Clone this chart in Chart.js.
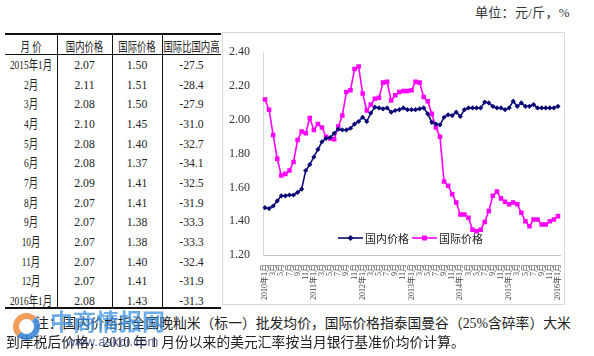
<!DOCTYPE html>
<html><head><meta charset="utf-8">
<script src="https://cdn.jsdelivr.net/npm/chart.js@4.4.0/dist/chart.umd.min.js"></script>
<style>
html,body{margin:0;padding:0;background:#fff;}
body{width:594px;height:356px;position:relative;overflow:hidden;font-family:"Liberation Serif","Noto Sans CJK SC",serif;color:#222;}
#unit{position:absolute;left:475px;top:5px;font-size:13px;line-height:16px;color:#333;white-space:nowrap;letter-spacing:0.3px;}
.rule{position:absolute;background:#111;}
.cell{position:absolute;overflow:hidden;text-align:center;white-space:nowrap;font-size:13px;color:#222;}
.cell span{display:block;margin:0 -30px;}
#frame{position:absolute;left:222px;top:32px;width:341px;height:271px;border:1px solid #dadada;}
#cv{position:absolute;left:222px;top:32px;}
.note{position:absolute;white-space:nowrap;font-size:13.8px;line-height:16px;font-family:"Liberation Serif","Noto Sans CJK SC",serif;color:#222;}
.wm{position:absolute;white-space:nowrap;}
</style>
</head>
<body>
<div id="unit">单位：元/斤，%</div>
<div id="tableBox"></div>
<div id="frame"></div>
<canvas id="cv" width="342" height="272"></canvas>
<div class="note" style="left:35px;top:316px;">注：国内价格指全国晚籼米（标一）批发均价，国际价格指泰国曼谷（25%含碎率）大米</div>
<div class="note" style="left:6px;top:335px;">到岸税后价格，2010 年 1 月份以来的美元汇率按当月银行基准价均价计算。</div>
<div class="wm" style="left:13px;top:313px;width:15px;height:15px;border-radius:50%;border:6px solid rgba(240,140,60,0.85);border-right-color:rgba(50,130,215,0.85);border-bottom-color:rgba(50,130,215,0.85);"></div>
<div class="wm" style="left:50px;top:309px;font-size:23px;line-height:23px;font-weight:bold;font-family:'Noto Sans CJK SC';color:rgba(60,145,225,0.75);letter-spacing:0px;">中商情报网</div>
<div class="wm" style="left:66px;top:334px;font-size:13px;line-height:15px;font-family:'Liberation Sans';color:rgba(30,50,120,0.75);letter-spacing:0.3px;">www.askci.com</div>
<script>
// ---- table data ----
const tableHeaders = ["月 价", "国内价格", "国际价格", "国际比国内高"];
const tableMonths = ["2015年1月","2月","3月","4月","5月","6月","7月","8月","9月","10月","11月","12月","2016年1月"];
const tableDomestic = [2.07,2.11,2.08,2.10,2.08,2.08,2.09,2.07,2.07,2.07,2.07,2.07,2.08];
const tableIntl = [1.50,1.51,1.50,1.45,1.40,1.37,1.41,1.41,1.38,1.38,1.40,1.41,1.43];
const tableDiff = [-27.5,-28.4,-27.9,-31.0,-32.7,-34.1,-32.5,-31.9,-33.3,-33.3,-32.4,-31.9,-31.3];

// ---- chart data ----
const months = [
"2010年1月","2月","3月","4月","5月","6月","7月","8月","9月","10月","11月","12月",
"2011年1月","2月","3月","4月","5月","6月","7月","8月","9月","10月","11月","12月",
"2012年1月","2月","3月","4月","5月","6月","7月","8月","9月","10月","11月","12月",
"2013年1月","2月","3月","4月","5月","6月","7月","8月","9月","10月","11月","12月",
"2014年1月","2月","3月","4月","5月","6月","7月","8月","9月","10月","11月","12月",
"2015年1月","2月","3月","4月","5月","6月","7月","8月","9月","10月","11月","12月",
"2016年1月"];
const domestic = [
1.48,1.475,1.49,1.52,1.55,1.55,1.555,1.555,1.57,1.59,1.70,1.735,
1.78,1.825,1.87,1.89,1.895,1.92,1.945,1.94,1.94,1.95,1.975,1.99,
2.015,1.99,2.04,2.075,2.07,2.065,2.07,2.045,2.055,2.06,2.07,2.06,
2.06,2.06,2.065,2.07,2.035,1.985,1.975,1.97,2.015,2.03,2.025,2.045,
2.02,2.06,2.07,2.07,2.07,2.07,2.105,2.10,2.08,2.07,2.07,2.06,
2.07,2.11,2.08,2.10,2.08,2.08,2.09,2.07,2.07,2.07,2.07,2.07,
2.08];
const international = [
2.12,2.06,1.91,1.77,1.67,1.68,1.70,1.75,1.88,1.93,1.92,2.01,
1.94,1.975,1.955,1.90,1.89,1.885,1.96,2.025,2.165,2.175,2.30,2.315,
2.155,2.055,2.09,2.125,2.13,2.22,2.225,2.115,2.145,2.165,2.17,2.17,
2.175,2.225,2.22,2.135,2.11,2.035,1.955,1.90,1.635,1.61,1.56,1.51,
1.44,1.44,1.42,1.35,1.34,1.35,1.395,1.46,1.55,1.575,1.535,1.515,
1.50,1.51,1.50,1.45,1.40,1.37,1.41,1.41,1.38,1.38,1.40,1.41,
1.43];
const seriesNames = ["国内价格", "国际价格"];
const yMin = 1.2, yMax = 2.4, yStep = 0.2;

// ---- build table ----
(function(){
  const box = document.getElementById('tableBox');
  const colX = [5,57,112,162,221];
  function add(html){ box.insertAdjacentHTML('beforeend', html); }
  function rule(x,y,w,h){ add('<div class="rule" style="left:'+x+'px;top:'+y+'px;width:'+w+'px;height:'+h+'px"></div>'); }
  function cell(ci, top, h, text, sx){
    add('<div class="cell" style="left:'+colX[ci]+'px;width:'+(colX[ci+1]-colX[ci])+'px;top:'+top+'px;height:'+h+'px;line-height:'+h+'px"><span style="transform:scaleX('+sx+')">'+text+'</span></div>');
  }
  rule(5,33,216,2);
  rule(5,54,216,1);
  rule(5,307,216,2);
  for (let k=1;k<4;k++) rule(colX[k],35,1,272);
  tableHeaders.forEach((t,i)=>cell(i,38,18,t,0.72));
  const rh = 19.64;
  for (let r=0;r<tableMonths.length;r++){
    const top = 55.2 + r*rh;
    cell(0, top, rh, tableMonths[r], 0.72);
    cell(1, top, rh, tableDomestic[r].toFixed(2), 0.9);
    cell(2, top, rh, tableIntl[r].toFixed(2), 0.9);
    cell(3, top, rh, tableDiff[r].toFixed(1), 0.9);
  }
})();

// ---- legend plugin (inside plot area) ----
const inlineLegend = {
  id: 'inlineLegend',
  afterDatasetsDraw(chart){
    const ctx = chart.ctx, ca = chart.chartArea;
    const y = ca.bottom - 17;
    const starts = [ca.left + 75, ca.left + 149];
    ctx.save();
    chart.data.datasets.forEach((ds, i) => {
      const x0 = starts[i], x1 = x0 + 25, mx = (x0 + x1) / 2;
      ctx.strokeStyle = ds.borderColor; ctx.lineWidth = ds.borderWidth;
      ctx.beginPath(); ctx.moveTo(x0, y); ctx.lineTo(x1, y); ctx.stroke();
      ctx.fillStyle = ds.backgroundColor;
      if (ds.pointStyle === 'rectRot') {
        ctx.beginPath(); ctx.moveTo(mx, y-3); ctx.lineTo(mx+3, y); ctx.lineTo(mx, y+3); ctx.lineTo(mx-3, y); ctx.closePath(); ctx.fill();
      } else {
        ctx.fillRect(mx-2.5, y-2.5, 5, 5);
      }
      ctx.fillStyle = '#222';
      ctx.font = '11px "Noto Sans CJK SC"';
      ctx.textBaseline = 'middle'; ctx.textAlign = 'left';
      ctx.fillText(ds.label, x1 + 2, y + 0.5);
    });
    ctx.restore();
  }
};

new Chart(document.getElementById('cv'), {
  type: 'line',
  data: {
    labels: months,
    datasets: [
      { label: seriesNames[0], data: domestic, borderColor: '#0b0b78', backgroundColor: '#0b0b78',
        borderWidth: 1.6, pointStyle: 'rectRot', pointRadius: 2.6, pointBorderWidth: 0, tension: 0 },
      { label: seriesNames[1], data: international, borderColor: '#ff00ff', backgroundColor: '#ff00ff',
        borderWidth: 1.6, pointStyle: 'rect', pointRadius: 3.2, pointBorderWidth: 0, tension: 0 }
    ]
  },
  options: {
    responsive: false, animation: false, devicePixelRatio: 1,
    layout: { padding: { top: 10, right: 1, left: 0, bottom: 0 } },
    plugins: { legend: { display: false }, tooltip: { enabled: false } },
    scales: {
      x: {
        offset: true,
        grid: { display: false, drawTicks: false },
        border: { display: true, color: '#c4c4c4', dash: [2, 2] },
        ticks: {
          autoSkip: false, minRotation: 90, maxRotation: 90, padding: 9,
          font: { size: 8, family: '"Liberation Serif","Noto Sans CJK SC"' }, color: '#444',
          callback: (v, i) => (i % 2 === 0 ? months[i] : '')
        },
        afterFit(s) { s.height = 49; s.paddingLeft = 0; s.paddingRight = 0; }
      },
      y: {
        min: yMin, max: yMax,
        grid: { display: false, drawTicks: false },
        border: { display: true, color: '#d6d6d6' },
        ticks: {
          stepSize: yStep, padding: 13,
          font: { size: 12, family: '"Liberation Serif"' }, color: '#333',
          callback: v => Number(v).toFixed(2)
        },
        afterFit(s) { s.width = 41; }
      }
    }
  },
  plugins: [inlineLegend]
});
</script>
</body></html>
